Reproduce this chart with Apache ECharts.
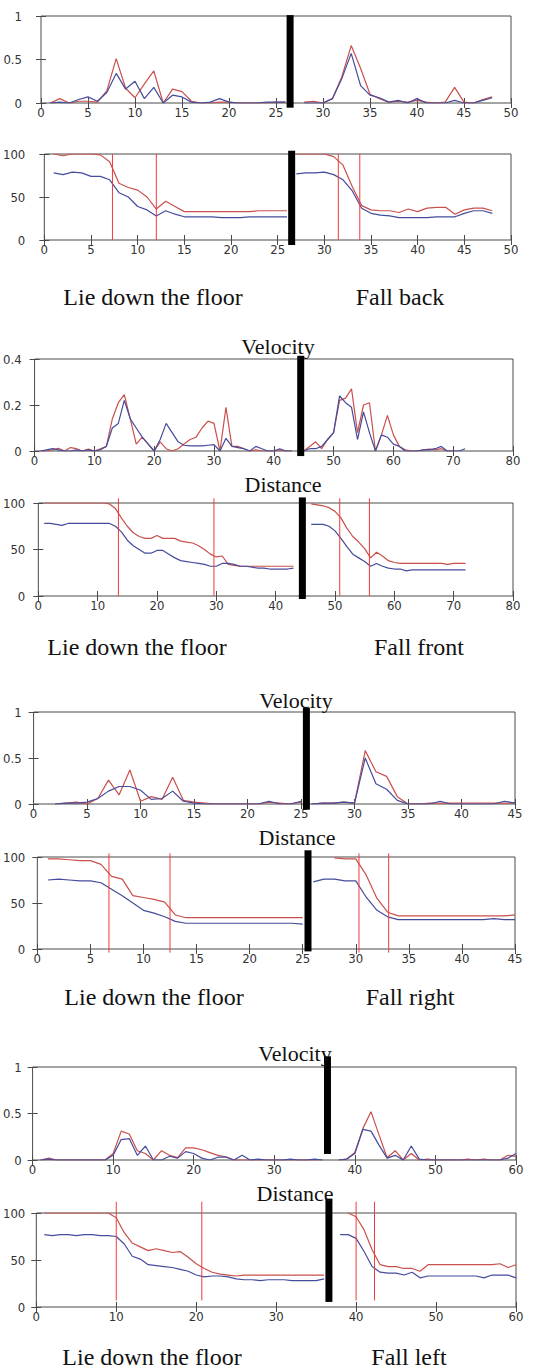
<!DOCTYPE html>
<html><head><meta charset="utf-8">
<script src="https://cdn.jsdelivr.net/npm/echarts@6/dist/echarts.min.js"></script>
<style>html,body{margin:0;padding:0;background:#fff}#c{width:543px;height:1370px}</style>
</head><body><div id="c"></div>
<script>
// ---------- Fall back ----------
const backVelStart = [1, 28];
const backVelRedL  = [0,0.05,0.0,0.02,0.02,0.01,0.14,0.51,0.17,0.06,0.22,0.37,0.0,0.16,0.13,0.02,0.0,0.0,0.01,0.01,0.0,0.0,0.0,0.0,0.01,0.01];
const backVelBlueL = [0,0.01,0.0,0.04,0.07,0.02,0.12,0.34,0.16,0.25,0.05,0.18,0.0,0.09,0.07,0.01,0.0,0.01,0.05,0.01,0.0,0.0,0.0,0.01,0.01,0.01];
const backVelRedR  = [0.01,0.02,0.0,0.05,0.3,0.66,0.4,0.1,0.05,0.01,0.02,0.01,0.03,0.01,0.0,0.01,0.18,0.01,0.0,0.04,0.07];
const backVelBlueR = [0.0,0.0,0.0,0.05,0.28,0.57,0.2,0.09,0.06,0.01,0.03,0.0,0.05,0.0,0.0,0.0,0.03,0.0,0.0,0.03,0.06];
const backDistStart = [1, 27];
const backDistRedL  = [100,98,100,100,100,99,91,66,61,58,50,36,45,39,33,33,33,33,33,33,33,33,34,34,34,34];
const backDistBlueL = [78,76,79,78,74,74,70,55,50,39,35,28,34,30,27,27,27,27,26,26,26,27,27,27,27,27];
const backDistRedR  = [100,100,100,100,97,87,62,40,35,34,34,32,36,33,37,38,38,30,35,37,37,34];
const backDistBlueR = [77,78,78,79,76,70,57,37,31,29,28,26,26,26,26,27,27,27,31,34,34,31];
const backMarks = [7.3, 12.0, 31.5, 33.8];
const backSplit = 26.5;

// ---------- Fall front ----------
const frontVelStart = [1, 45];
const frontVelRedL  = [0,0.0,0.005,0.012,0.0,0.015,0.01,0.0,0.008,0.0,0.01,0.02,0.14,0.21,0.245,0.14,0.03,0.06,0.03,0.0,0.04,0.01,0.0,0.01,0.03,0.05,0.06,0.1,0.13,0.12,0.0,0.19,0.02,0.02,0.01,0.0,0.005,0.0,0.0,0.0,0.005,0.0,0.0];
const frontVelBlueL = [0,0.005,0.01,0.005,0.0,0.0,0.005,0.0,0.005,0.0,0.005,0.02,0.1,0.12,0.22,0.14,0.1,0.06,0.03,0.0,0.05,0.12,0.08,0.04,0.025,0.022,0.022,0.022,0.025,0.028,0.0,0.055,0.02,0.015,0.01,0.0,0.02,0.01,0.0,0.0,0.01,0.0,0.0];
const frontVelRedR  = [0.0,0.02,0.04,0.01,0.05,0.08,0.22,0.23,0.27,0.08,0.2,0.21,0.0,0.07,0.155,0.07,0.02,0.005,0.0,0.0,0.005,0.008,0.005,0.01,0.0,0.0];
const frontVelBlueR = [0.0,0.01,0.01,0.02,0.05,0.08,0.24,0.21,0.19,0.05,0.17,0.08,0.0,0.07,0.06,0.03,0.02,0.0,0.0,0.0,0.005,0.005,0.01,0.02,0.0,0.0,0.0,0.01];
const frontDistStart = [1, 46];
const frontDistRedL  = [100,100,100,100,100,100,100,100,100,100,100,99,94,84,75,68,64,62,62,65,62,62,62,59,58,57,54,50,45,42,43,34,33,32,32,32,32,32,32,32,32,32,32];
const frontDistBlueL = [78,78,77,76,78,78,78,78,78,78,78,78,75,69,60,54,50,46,46,49,49,45,41,38,37,36,35,34,32,32,35,35,34,32,32,31,30,30,29,29,29,29,30];
const frontDistRedR  = [99,98,97,95,91,84,73,64,58,51,41,47,43,38,36,35,35,35,35,35,35,35,35,34,35,35,35];
const frontDistBlueR = [77,77,77,75,70,62,53,45,41,37,32,35,32,30,29,29,27,28,28,28,28,28,28,28,28,28,28];
const frontMarks = [13.5, 29.6, 50.8, 55.8];
const frontSplit = 44.5;

// ---------- Fall right ----------
const rightVelStart = [2, 26];
const rightVelRedL  = [0.0,0.01,0.02,0.0,0.06,0.26,0.1,0.37,0.03,0.08,0.05,0.29,0.04,0.02,0.01,0.0,0.0,0.0,0.0,0.0,0.02,0.01,0.0,0.02];
const rightVelBlueL = [0.0,0.01,0.01,0.02,0.06,0.14,0.19,0.19,0.15,0.05,0.06,0.14,0.03,0.01,0.0,0.0,0.0,0.0,0.0,0.0,0.03,0.0,0.0,0.03];
const rightVelRedR  = [0.0,0.01,0.01,0.02,0.01,0.58,0.35,0.3,0.08,0.0,0.0,0.01,0.01,0.01,0.01,0.01,0.01,0.01,0.01,0.01];
const rightVelBlueR = [0.0,0.01,0.01,0.02,0.01,0.5,0.22,0.16,0.04,0.0,0.0,0.0,0.03,0.0,0.0,0.0,0.0,0.0,0.03,0.01];
const rightDistStart = [1, 28, 26];
const rightDistRedL  = [98,98,97,96,96,92,79,76,58,56,54,51,37,34,34,34,34,34,34,34,34,34,34,34,34];
const rightDistBlueL = [75,76,75,74,74,72,65,58,50,42,39,35,30,28,28,28,28,28,28,28,28,28,28,28,27];
const rightDistRedR  = [99,98,98,80,55,40,36,36,36,36,36,36,36,36,36,36,36,37];
const rightDistBlueR = [73,76,76,74,74,56,42,35,32,32,32,32,32,32,32,32,32,33,32,32];
const rightMarks = [6.75, 12.5, 30.3, 33.1];
const rightSplit = 25.5;

// ---------- Fall left ----------
const leftVelStart = [1, 38];
const leftVelRedL  = [0.0,0.02,0.0,0.0,0.0,0.0,0.0,0.0,0.0,0.07,0.31,0.28,0.1,0.07,0.0,0.1,0.05,0.025,0.13,0.13,0.11,0.08,0.05,0.035,0.0,0.0,0.0,0.0,0.0,0.0,0.0,0.0,0.0,0.0,0.0,0.0];
const leftVelBlueL = [0.0,0.01,0.0,0.0,0.0,0.0,0.0,0.0,0.0,0.05,0.22,0.23,0.05,0.15,0.0,0.0,0.04,0.02,0.09,0.07,0.02,0.0,0.03,0.03,0.0,0.05,0.0,0.01,0.0,0.0,0.0,0.01,0.0,0.0,0.01,0.0];
const leftVelRedR  = [0.0,0.01,0.08,0.34,0.52,0.27,0.025,0.1,0.0,0.07,0.0,0.01,0.0,0.0,0.0,0.0,0.01,0.0,0.01,0.0,0.0,0.05,0.04];
const leftVelBlueR = [0.0,0.01,0.07,0.33,0.31,0.16,0.02,0.05,0.0,0.15,0.01,0.0,0.0,0.0,0.0,0.0,0.0,0.0,0.0,0.0,0.0,0.02,0.07];
const leftDistStart = [1, 39, 38];
const leftDistRedL  = [100,100,100,100,100,100,100,100,100,95,79,68,64,60,62,60,58,59,53,46,41,37,35,34,33,34,34,34,34,34,34,34,34,34,34,34];
const leftDistBlueL = [77,76,77,77,76,77,77,76,76,75,67,54,51,45,44,43,42,40,38,34,32,33,33,32,30,29,29,28,29,29,29,28,28,28,28,30];
const leftDistRedR  = [100,96,82,61,45,43,43,41,41,38,45,45,45,45,45,45,45,45,45,46,42,45];
const leftDistBlueR = [77,77,73,59,43,37,36,36,34,37,31,33,33,33,33,33,33,33,31,34,34,34,31];
const leftMarks = [10, 20.7, 40, 42.3];
const leftSplit = 36.6;

// ---------- Text ----------
const activityA = 'Lie down the floor';
const fallNames = ['Fall back', 'Fall front', 'Fall right', 'Fall left'];
const velTitle = 'Velocity';
const distTitle = 'Distance';

// ---------- build ----------
const RED = '#c9504c', BLUE = '#444c9c', MARK = '#f23a3a';
const tickFont = '"Liberation Sans Narrow","DejaVu Sans Condensed","Liberation Sans",Arial,sans-serif';
const serif = '"Liberation Serif","Times New Roman",serif';

const pts = (start, arr) => arr.map((v, i) => [start + i, v]);

const panels = [
  {grid:{left:41,top:16,width:470,height:87}, xMax:50, xStep:5, yMax:1, yStep:0.5, lm:19,
   lines:[[backVelStart[0],backVelRedL,RED],[backVelStart[0],backVelBlueL,BLUE],[backVelStart[1],backVelRedR,RED],[backVelStart[1],backVelBlueR,BLUE]],
   marks:[], split:backSplit, splitY:[-0.054,1.01]},
  {grid:{left:41,top:154,width:470,height:86}, xMax:50, xStep:5, yMax:100, yStep:50, lm:19,
   lines:[[backDistStart[0],backDistRedL,RED],[backDistStart[0],backDistBlueL,BLUE],[backDistStart[1],backDistRedR,RED],[backDistStart[1],backDistBlueR,BLUE]],
   marks:backMarks, markY:[0,100], split:backSplit, splitY:[-5.8,103.8]},
  {grid:{left:33,top:359,width:480,height:92}, xMax:80, xStep:10, yMax:0.4, yStep:0.2, lm:13,
   lines:[[frontVelStart[0],frontVelRedL,RED],[frontVelStart[0],frontVelBlueL,BLUE],[frontVelStart[1],frontVelRedR,RED],[frontVelStart[1],frontVelBlueR,BLUE]],
   marks:[], split:frontSplit, splitY:[-0.022,0.414]},
  {grid:{left:33,top:503,width:480,height:93}, xMax:80, xStep:10, yMax:100, yStep:50, lm:13,
   lines:[[frontDistStart[0],frontDistRedL,RED],[frontDistStart[0],frontDistBlueL,BLUE],[frontDistStart[1],frontDistRedR,RED],[frontDistStart[1],frontDistBlueR,BLUE]],
   marks:frontMarks, markY:[0,105], split:frontSplit, splitY:[-3.2,106]},
  {grid:{left:33,top:712,width:482,height:92}, xMax:45, xStep:5, yMax:1, yStep:0.5, lm:12,
   lines:[[rightVelStart[0],rightVelRedL,RED],[rightVelStart[0],rightVelBlueL,BLUE],[rightVelStart[1],rightVelRedR,RED],[rightVelStart[1],rightVelBlueR,BLUE]],
   marks:[], split:rightSplit, splitY:[-0.062,1.047]},
  {grid:{left:33,top:857,width:482,height:92}, xMax:45, xStep:5, yMax:100, yStep:50, lm:12,
   lines:[[rightDistStart[0],rightDistRedL,RED],[rightDistStart[0],rightDistBlueL,BLUE],[rightDistStart[1],rightDistRedR,RED],[rightDistStart[2],rightDistBlueR,BLUE]],
   marks:rightMarks, markY:[-4,104], split:rightSplit, splitY:[-2.6,107.3]},
  {grid:{left:29,top:1067,width:487,height:93}, xMax:60, xStep:10, yMax:1, yStep:0.5, lm:11,
   lines:[[leftVelStart[0],leftVelRedL,RED],[leftVelStart[0],leftVelBlueL,BLUE],[leftVelStart[1],leftVelRedR,RED],[leftVelStart[1],leftVelBlueR,BLUE]],
   marks:[], split:leftSplit, splitY:[0.065,1.115]},
  {grid:{left:29,top:1213,width:487,height:94}, xMax:60, xStep:10, yMax:100, yStep:50, lm:11,
   lines:[[leftDistStart[0],leftDistRedL,RED],[leftDistStart[0],leftDistBlueL,BLUE],[leftDistStart[1],leftDistRedR,RED],[leftDistStart[2],leftDistBlueR,BLUE]],
   marks:leftMarks, markY:[7,112], split:leftSplit, splitY:[5.4,115.3]}
];

const grids = [], xAxes = [], yAxes = [], series = [];
panels.forEach((p, i) => {
  grids.push(Object.assign({show:true, borderColor:'#4a4a4a', borderWidth:1, backgroundColor:'transparent'}, p.grid));
  const tick = {show:true, inside:true, length:5, lineStyle:{color:'#4a4a4a', width:1}};
  const lab = {fontSize:13, color:'#333', fontFamily:tickFont};
  xAxes.push({gridIndex:i, type:'value', min:0, max:p.xMax, interval:p.xStep, position:'bottom',
    axisLine:{show:false}, axisTick:tick, splitLine:{show:false}, axisLabel:Object.assign({margin:3}, lab)});
  xAxes.push({gridIndex:i, type:'value', min:0, max:p.xMax, interval:p.xStep, position:'top',
    axisLine:{show:false}, axisTick:tick, splitLine:{show:false}, axisLabel:{show:false}});
  yAxes.push({gridIndex:i, type:'value', min:0, max:p.yMax, interval:p.yStep, position:'left',
    axisLine:{show:false}, axisTick:tick, splitLine:{show:false}, axisLabel:Object.assign({margin:p.lm}, lab)});
  yAxes.push({gridIndex:i, type:'value', min:0, max:p.yMax, interval:p.yStep, position:'right',
    axisLine:{show:false}, axisTick:tick, splitLine:{show:false}, axisLabel:{show:false}});
  const ax = {xAxisIndex:2*i, yAxisIndex:2*i};
  p.lines.forEach(([start, arr, col]) => {
    series.push(Object.assign({type:'line', data:pts(start, arr), showSymbol:false, symbol:'none',
      lineStyle:{color:col, width:1.2}, z:3, silent:true}, ax));
  });
  p.marks.forEach(m => {
    series.push(Object.assign({type:'line', data:[[m, p.markY[0]],[m, p.markY[1]]], symbol:'none', clip:false,
      lineStyle:{color:MARK, width:1}, z:4, silent:true}, ax));
  });
  series.push(Object.assign({type:'line', data:[[p.split, p.splitY[0]],[p.split, p.splitY[1]]], symbol:'none', clip:false,
    lineStyle:{color:'#000', width:7, cap:'butt'}, z:6, silent:true}, ax));
});

const txt = (s, x, y, size) => ({type:'text', x:x, y:y, z:10, silent:true,
  style:{text:s, fontSize:size, fontFamily:serif, fill:'#111', align:'center', verticalAlign:'middle'}});

const graphic = [
  txt(activityA, 153, 297, 24), txt(fallNames[0], 400, 297, 24),
  txt(velTitle, 278, 346, 22), txt(distTitle, 283, 484, 22),
  txt(activityA, 137, 647, 24), txt(fallNames[1], 419, 647, 24),
  txt(velTitle, 296, 700, 22), txt(distTitle, 297, 837, 22),
  txt(activityA, 154, 997, 24), txt(fallNames[2], 410, 997, 24),
  txt(velTitle, 295, 1053, 22), txt(distTitle, 295, 1193, 22),
  txt(activityA, 152, 1357, 24), txt(fallNames[3], 409, 1357, 24)
];

const chart = echarts.init(document.getElementById('c'), null, {renderer:'svg'});
chart.setOption({animation:false, backgroundColor:'#fff', grid:grids, xAxis:xAxes, yAxis:yAxes, series:series, graphic:graphic});
</script>
</body></html>
